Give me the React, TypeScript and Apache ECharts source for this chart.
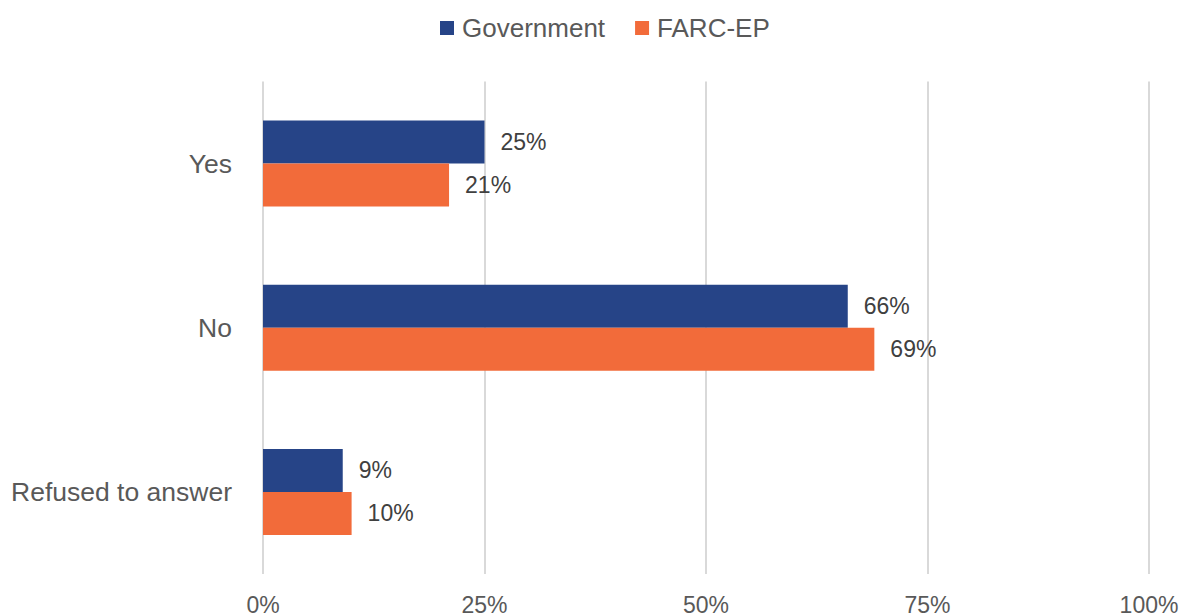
import React, { useEffect, useRef } from "react";
import * as echarts from "echarts";

const categories = ["Yes", "No", "Refused to answer"];
const seriesNames = ["Government", "FARC-EP"];
const governmentValues = [25, 66, 9];
const farcValues = [21, 69, 10];
const xTicks = [0, 25, 50, 75, 100];

export default function App() {
  const ref = useRef<HTMLDivElement>(null);
  useEffect(() => {
    const chart = echarts.init(ref.current!, null, { renderer: "svg" });
    const labelStyle = {
      show: true,
      position: "right" as const,
      distance: 16,
      formatter: "{c}%",
      color: "#404040",
      fontSize: 23,
      fontFamily: "Liberation Sans, Arial, sans-serif",
    };
    chart.setOption({
      animation: false,
      legend: {
        top: 10,
        left: 435,
        itemWidth: 14,
        itemHeight: 14,
        itemGap: 30,
        icon: "rect",
        textStyle: {
          color: "#595959",
          fontSize: 26,
          fontFamily: "Liberation Sans, Arial, sans-serif",
          padding: [0, 0, 0, 3],
        },
        data: seriesNames,
      },
      grid: { left: 263, right: 34, top: 81.5, bottom: 38.5, containLabel: false },
      xAxis: {
        type: "value",
        min: xTicks[0],
        max: xTicks[xTicks.length - 1],
        interval: 25,
        axisLine: { show: false },
        axisTick: { show: false },
        splitLine: { lineStyle: { color: "#d9d9d9", width: 2 } },
        axisLabel: {
          formatter: "{value}%",
          color: "#595959",
          fontSize: 23,
          margin: 19,
          fontFamily: "Liberation Sans, Arial, sans-serif",
        },
      },
      yAxis: {
        type: "category",
        inverse: true,
        data: categories,
        axisLine: { show: false },
        axisTick: { show: false },
        axisLabel: {
          color: "#595959",
          fontSize: 26.5,
          margin: 31,
          fontFamily: "Liberation Sans, Arial, sans-serif",
        },
      },
      series: [
        {
          name: seriesNames[0],
          type: "bar",
          data: governmentValues,
          barWidth: 43,
          barGap: "0%",
          itemStyle: { color: "#264487" },
          label: labelStyle,
        },
        {
          name: seriesNames[1],
          type: "bar",
          data: farcValues,
          barWidth: 43,
          barGap: "0%",
          itemStyle: { color: "#f26b3a" },
          label: labelStyle,
        },
      ],
    });
    return () => chart.dispose();
  }, []);
  return (
    <div
      ref={ref}
      style={{ position: "absolute", left: 0, top: 0, width: 1183, height: 616 }}
    />
  );
}
